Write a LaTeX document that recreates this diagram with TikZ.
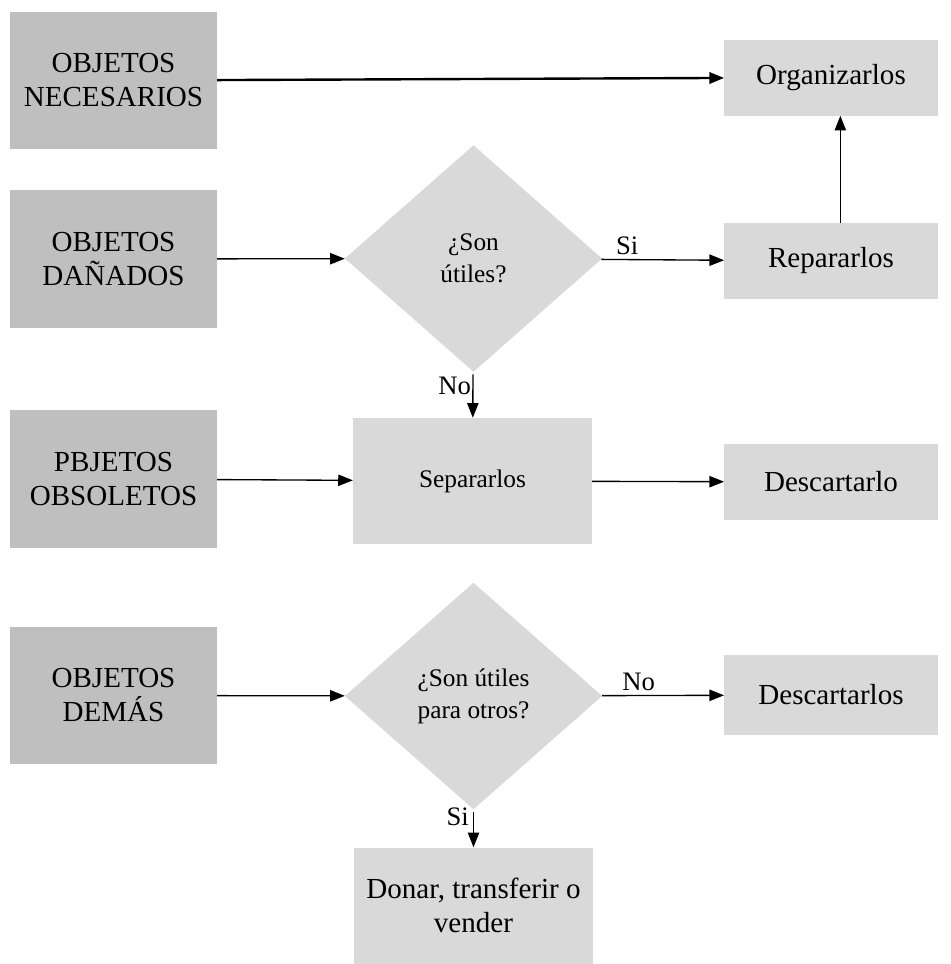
\documentclass[tikz,border=0pt]{standalone}
\usepackage{fontspec}
\setmainfont{Liberation Serif}
\usetikzlibrary{shapes.geometric,arrows.meta}
\definecolor{darkbox}{HTML}{BFBFBF}
\definecolor{lightbox}{HTML}{D9D9D9}
\tikzset{
	grupo/.style={fill=darkbox,minimum width=155pt,minimum height=103pt,align=center,font=\fontsize{21.8}{25.5}\selectfont},
	accion/.style={fill=lightbox,minimum width=160pt,minimum height=57pt,align=center,font=\fontsize{21.8}{25.5}\selectfont},
	pregunta/.style={diamond,fill=lightbox,aspect=1.13,inner sep=0pt,minimum width=193pt,minimum height=170pt,align=center,font=\fontsize{19}{24}\selectfont},
	flecha/.style={->,line width=1pt},
	etiqueta/.style={font=\fontsize{20}{24}\selectfont}
}

\begin{document}
\begin{tikzpicture}[x=0.75pt,y=-0.75pt,>={Triangle[length=11pt,width=8.5pt]}]
			\useasboundingbox (0,0) rectangle (950,964);
			% columna izquierda
			\node [grupo] (nec) at (113.5,80.5) {OBJETOS\\NECESARIOS};
			\node [grupo] (dan) at (113.5,259) {OBJETOS\\DAÑADOS};
			\node [grupo] (obs) at (113.5,479) {PBJETOS\\OBSOLETOS};
			\node [grupo] (dem) at (113.5,695.5) {OBJETOS\\DEMÁS};
			% centro
			\node [pregunta] (util) at (473.5,258.5) {¿Son\\útiles?};
			\node [accion,minimum width=179pt,minimum height=94.5pt,font=\fontsize{19}{24}\selectfont] (sep) at (472.5,481) {Separarlos};
			\node [pregunta] (otros) at (473.5,696) {¿Son útiles\\para otros?};
			\node [accion,minimum width=179pt,minimum height=87pt] (don) at (473.5,905.5) {Donar, transferir o\\vender};
			% columna derecha
			\node [accion] (org) at (831,77.5) {Organizarlos};
			\node [accion] (rep) at (831,261) {Repararlos};
			\node [accion] (desc) at (831,482) {Descartarlo};
			\node [accion,minimum height=60pt] (descs) at (831,695) {Descartarlos};
			% flechas
			\draw [flecha,line width=1.8pt] (nec) -- (org);
			\draw [flecha] (dan) -- (util);
			\draw [flecha] (util) -- (rep) node [etiqueta,pos=.21,above] {Si};
			\draw [flecha] ([xshift=7pt]rep.north) -- ([xshift=7pt]org.south);
			\draw [flecha,shorten <=2pt] (util) -- (sep) node [etiqueta,pos=.3,left,inner sep=1pt] {No};
			\draw [flecha] (obs) -- (sep);
			\draw [flecha] (sep) -- (desc);
			\draw [flecha] (dem) -- (otros);
			\draw [flecha] (otros) -- (descs) node [etiqueta,pos=.3,above] {No};
			\draw [flecha,shorten <=2pt] (otros) -- (don) node [etiqueta,pos=.2,left,inner sep=3pt] {Si};
\end{tikzpicture}
\end{document}
